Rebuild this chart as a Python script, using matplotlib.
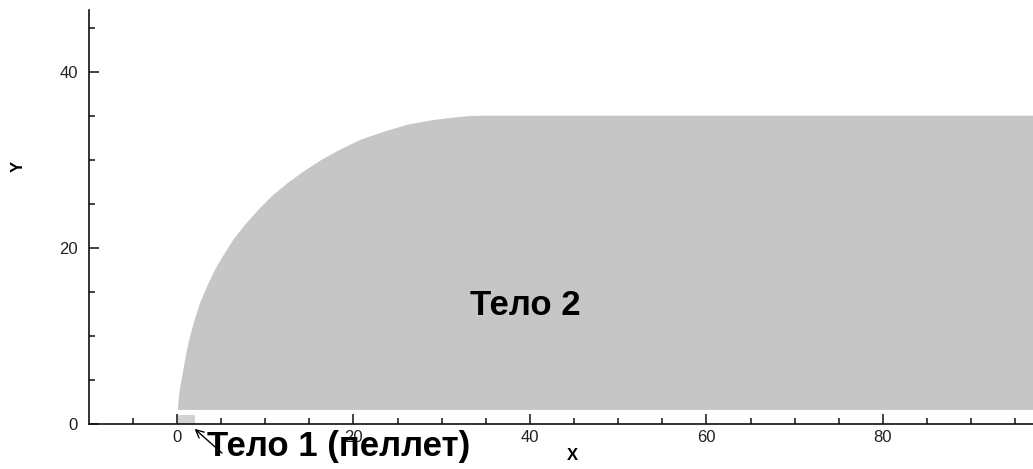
import matplotlib
matplotlib.use("Agg")
import matplotlib.pyplot as plt
from matplotlib.ticker import MultipleLocator

plt.rcParams['font.family'] = ['Liberation Sans', 'DejaVu Sans']

# Body 2 boundary (front edge)
edge_x = [0.10, 0.25, 0.71, 1.05, 1.47, 2.00, 2.60, 3.40, 4.30, 5.30, 6.37, 7.70,
          9.21, 10.8, 12.6, 14.4, 16.4, 18.6, 20.9, 23.5, 26.2, 29.0, 31.9, 33.4, 34.9]
edge_y = [1.6, 3.5, 6.1, 8.0, 9.9, 11.8, 13.7, 15.6, 17.5, 19.2, 20.9, 22.6,
          24.3, 25.9, 27.4, 28.7, 30.0, 31.2, 32.3, 33.2, 34.0, 34.5, 34.85, 34.97, 35.0]
body2_right = 100.0
body2_bottom = 1.6
body2_top = 35.0

# Body 1 (pellet) rectangle
pellet_x = [0.0, 2.0]
pellet_y = [0.0, 1.0]

xlim = (-9.97, 97.0)
ylim = (0.0, 47.0)
major_ticks = [0, 20, 40, 60, 80]
y_major_ticks = [0, 20, 40]

fig = plt.figure(figsize=(10.33, 4.69), dpi=100)
ax = fig.add_axes([89/1033, 45/469, 1 - 89/1033, 414/469])

# Body 2 polygon
poly_x = edge_x + [body2_right, body2_right]
poly_y = edge_y + [body2_top, body2_bottom]
ax.fill(poly_x, poly_y, color='#c6c6c6', lw=0, zorder=1)

# Pellet
ax.fill([pellet_x[0], pellet_x[1], pellet_x[1], pellet_x[0]],
        [pellet_y[0], pellet_y[0], pellet_y[1], pellet_y[1]],
        color='#d2d2d2', lw=0, zorder=1)

ax.set_xlim(*xlim)
ax.set_ylim(*ylim)
ax.set_xticks(major_ticks)
ax.set_yticks(y_major_ticks)
ax.xaxis.set_minor_locator(MultipleLocator(5))
ax.yaxis.set_minor_locator(MultipleLocator(5))

for s in ['top', 'right']:
    ax.spines[s].set_visible(False)
for s in ['left', 'bottom']:
    ax.spines[s].set_linewidth(1.2)
    ax.spines[s].set_color('#111111')

ax.tick_params(axis='both', which='major', direction='in', length=7.5, width=1.1,
               labelsize=12, labelcolor='#222222', color='#111111')
ax.tick_params(axis='both', which='minor', direction='in', length=4.5, width=1.1,
               color='#111111')
ax.tick_params(axis='x', which='major', pad=4)
ax.tick_params(axis='y', which='major', pad=8)

ax.set_facecolor('white')

# Labels
ax.text(33.2, 12.4, 'Тело 2', fontsize=25, fontweight='bold', ha='left',
        va='baseline', zorder=5)
ax.text(3.4, -3.64, 'Тело 1 (пеллет)', fontsize=25, fontweight='bold', ha='left',
        va='baseline', zorder=5, clip_on=False)
ax.annotate('', xy=(2.0, -0.55), xytext=(5.1, -3.3),
            arrowprops=dict(arrowstyle='->', color='black', lw=1.0,
                            shrinkA=0, shrinkB=0, mutation_scale=14),
            annotation_clip=False)

fig.text(572/1033, 1 - 455/469, 'X', fontsize=12, fontweight='bold',
         ha='center', va='center')
fig.text(18/1033, 1 - 166/469, 'Y', fontsize=12, fontweight='bold',
         ha='center', va='center', rotation=90)

fig.savefig('out.png', dpi=100)
